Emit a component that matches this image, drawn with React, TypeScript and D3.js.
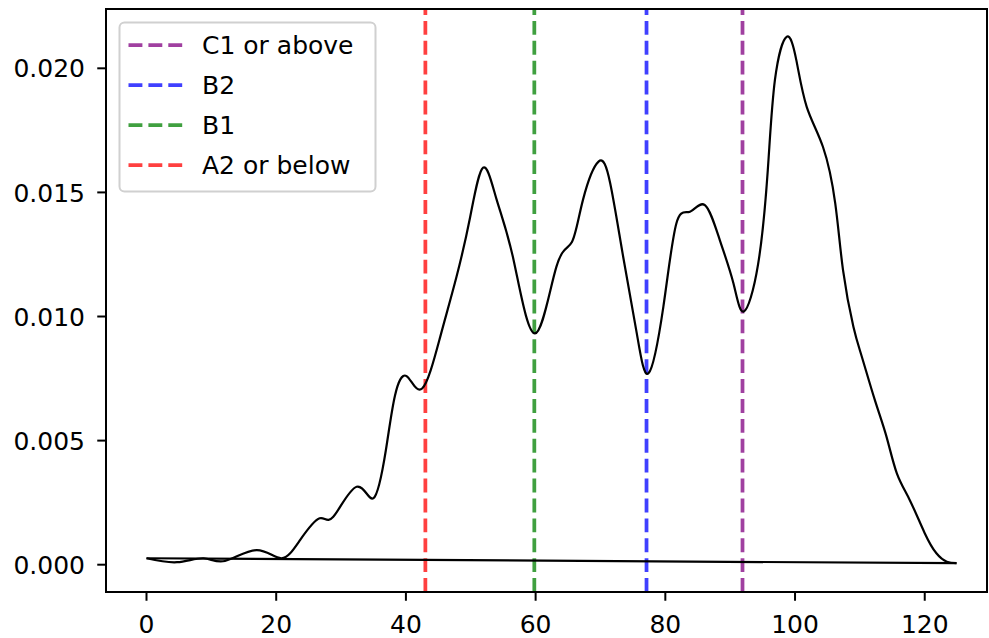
import React from "react";
import * as d3 from "d3";

const densityX = [0, 4.7, 8.8, 12.1, 17.0, 20.8, 23.7, 26.7, 28.8, 32.4, 35.0, 36.9, 38.3, 40.1, 42.5, 45.3, 47.8, 49.9, 51.9, 54.0, 56.6, 59.9, 63.2, 65.6, 67.3, 69.7, 71.5, 73.5, 75.6, 77.4, 79.7, 81.7, 83.8, 86.1, 88.4, 90.5, 92.1, 94.3, 95.8, 96.9, 98.7, 100.2, 101.8, 104.3, 106.2, 107.4, 109.0, 110.3, 112.3, 114.1, 115.7, 117.7, 120.0, 121.8, 123.4, 124.9];
const densityY = [0.00026, 0.0001, 0.00026, 0.00015, 0.00059, 0.00026, 0.001, 0.00187, 0.00193, 0.00314, 0.00268, 0.0046, 0.0068, 0.0076, 0.0071, 0.00919, 0.0116, 0.014, 0.016, 0.0147, 0.01228, 0.00932, 0.012, 0.013, 0.0147, 0.01624, 0.01537, 0.01241, 0.00932, 0.00771, 0.0104, 0.01375, 0.01422, 0.01449, 0.01308, 0.01134, 0.0102, 0.0121, 0.0159, 0.01953, 0.02127, 0.02033, 0.01845, 0.01684, 0.01456, 0.01187, 0.00959, 0.00838, 0.00664, 0.00516, 0.00368, 0.0026, 0.00127, 0.00046, 0.00012, 0.00006];

const levelNames = ["C1 or above", "B2", "B1", "A2 or below"];
const levelCuts = [91.9, 77.1, 59.8, 43.0];
const levelColors = ["purple", "blue", "green", "red"];

const xTicks = [0, 20, 40, 60, 80, 100, 120];
const yTicks = [0, 0.005, 0.01, 0.015, 0.02];
const yTickLabels = ["0.000", "0.005", "0.010", "0.015", "0.020"];

const W = 989, H = 638;
const L = 106, R = 987, T = 9, B = 592;
const FONT = "'DejaVu Sans', sans-serif";
const FS = 25;

export default function App() {
  const x = d3.scaleLinear().domain([-6.245, 129.6]).range([L, R]);
  const y = d3.scaleLinear().domain([-0.0011, 0.02239]).range([B, T]);
  const pts: [number, number][] = densityX.map((v, i) => [v, densityY[i]]);
  const curve = d3.line<[number, number]>().x(d => x(d[0])).y(d => y(d[1])).curve(d3.curveNatural);
  const straight = d3.line<[number, number]>().x(d => x(d[0])).y(d => y(d[1]));
  const closing: [number, number][] = [pts[pts.length - 1], pts[0]];

  const legX = 119.5, legY = 22.5, legW = 256, legH = 169;
  return (
    <svg width={W} height={H} style={{ position: "absolute", left: 0, top: 0, background: "#fff" }} fontFamily={FONT}>
      <rect x={0} y={0} width={W} height={H} fill="#fff" />
      {levelCuts.map((c, i) => (
        <line key={i} x1={x(c)} x2={x(c)} y1={B} y2={T} stroke={levelColors[i]} strokeOpacity={0.75} strokeWidth={3.75} strokeDasharray="13.9 6" />
      ))}
      <path d={straight(closing) || ""} fill="none" stroke="#000" strokeWidth={2.2} />
      <path d={curve(pts) || ""} fill="none" stroke="#000" strokeWidth={2.2} strokeLinejoin="round" />
      <rect x={L} y={T} width={R - L} height={B - T} fill="none" stroke="#000" strokeWidth={2} />
      {xTicks.map(t => (
        <g key={t}>
          <line x1={x(t)} x2={x(t)} y1={B} y2={B + 8.75} stroke="#000" strokeWidth={2} />
          <text x={x(t)} y={633} textAnchor="middle" fontSize={FS} fill="#000">{t}</text>
        </g>
      ))}
      {yTicks.map((t, i) => (
        <g key={t}>
          <line x1={L - 8.75} x2={L} y1={y(t)} y2={y(t)} stroke="#000" strokeWidth={2} />
          <text x={85} y={y(t) + 9.1} textAnchor="end" fontSize={FS} fill="#000">{yTickLabels[i]}</text>
        </g>
      ))}
      <rect x={legX} y={legY} width={legW} height={legH} rx={5} fill="#fff" fillOpacity={0.8} stroke="#d0d0d0" strokeWidth={2} />
      {levelNames.map((n, i) => {
        const cy = 45 + i * 40;
        return (
          <g key={n}>
            <line x1={128.5} x2={182.5} y1={cy} y2={cy} stroke={levelColors[i]} strokeOpacity={0.75} strokeWidth={3.75} strokeDasharray="13.9 6" />
            <text x={202} y={cy + 9.1} fontSize={FS} fill="#000">{n}</text>
          </g>
        );
      })}
    </svg>
  );
}
